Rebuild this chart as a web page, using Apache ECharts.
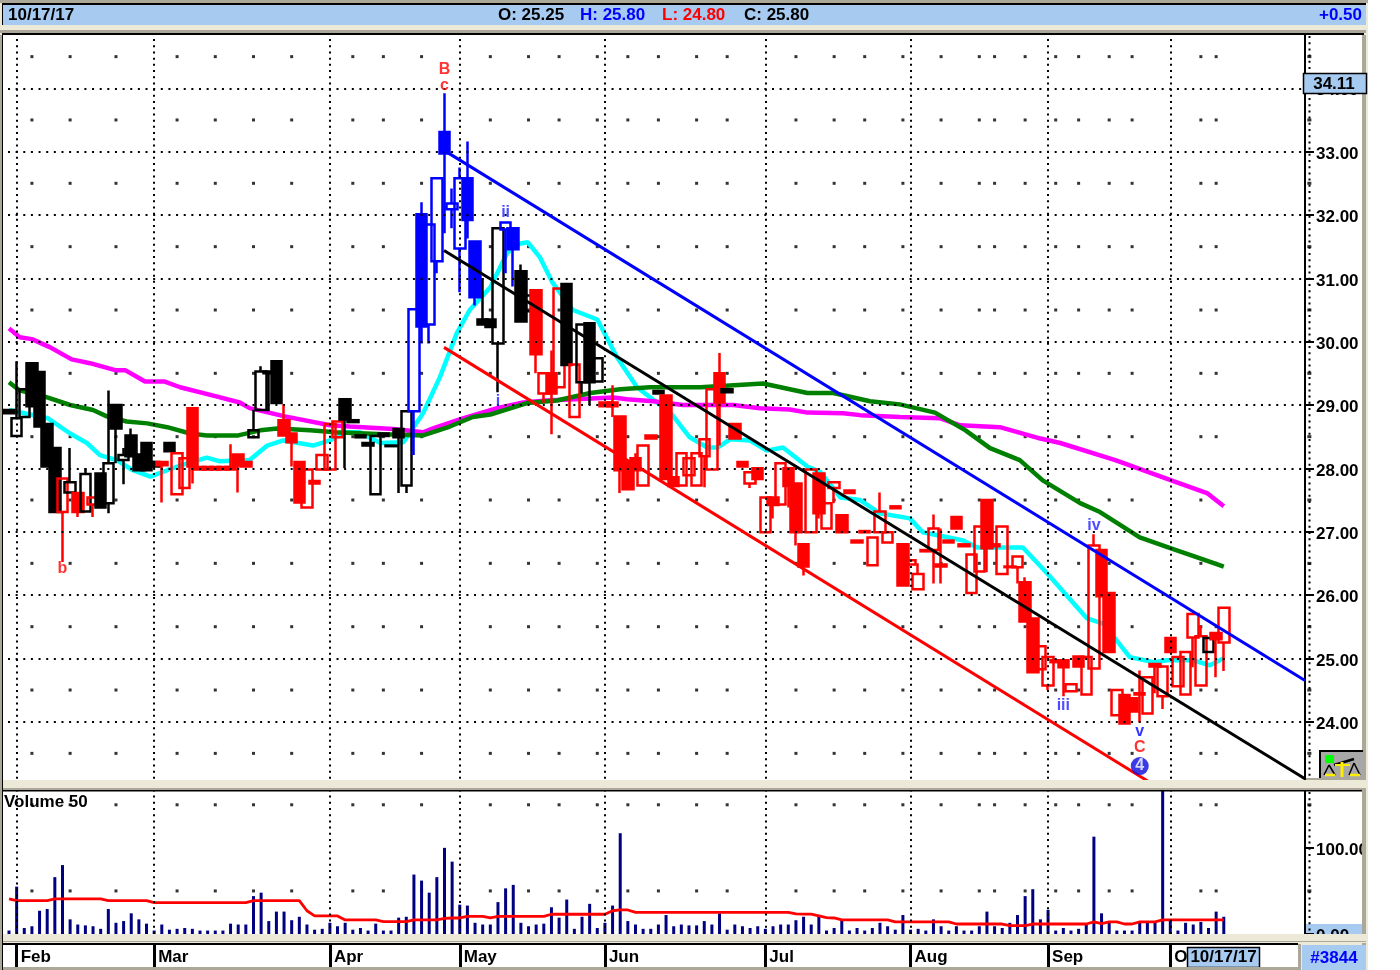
<!DOCTYPE html>
<html><head><meta charset="utf-8">
<style>html,body{margin:0;padding:0;background:#fff}#c{width:1400px;height:970px}</style>
<script src="https://cdn.jsdelivr.net/npm/echarts@6/dist/echarts.min.js"></script>
</head><body><div id="c"></div>
<script>
// ---------- candles: filled = close below open, hollow = close above open ----------
const open=[28.92,28.51,28.81,29.66,29.52,28.70,28.32,27.31,27.62,27.61,27.32,27.43,27.92,27.45,29.00,28.13,28.52,28.22,28.40,28.10,
28.10,28.40,27.59,27.69,28.95,28.02,28.02,28.02,28.02,28.02,28.22,28.10,28.49,28.92,29.53,29.69,28.76,28.55,28.10,27.38,
27.80,27.98,27.98,28.49,29.09,28.76,28.52,28.40,27.59,28.55,28.36,28.62,27.73,28.90,32.01,30.27,31.27,33.31,32.09,31.47,
32.58,31.58,30.35,30.35,29.97,31.77,31.79,31.11,30.48,30.81,29.18,29.50,29.28,30.91,28.81,29.36,30.29,29.37,29.04,29.04,
28.82,28.08,28.16,27.73,28.52,29.22,29.15,27.86,27.73,27.89,27.73,28.19,27.98,29.50,29.25,28.70,28.10,27.76,28.00,26.99,
27.54,27.43,28.00,27.76,26.80,26.99,27.92,27.05,27.69,27.26,27.65,26.86,27.01,26.47,26.99,26.83,27.40,26.80,26.48,26.09,
26.71,26.71,26.48,26.86,27.23,26.80,26.03,26.37,27.50,26.80,26.33,26.45,26.44,26.20,25.63,24.83,24.57,24.97,24.97,24.48,
25.03,24.43,24.84,26.71,26.03,24.10,24.42,24.37,24.45,24.13,24.91,24.40,25.32,24.56,24.43,25.33,24.57,25.10,25.40,25.25];
const close=[28.87,28.79,29.25,28.98,28.66,28.03,27.31,27.84,27.78,27.31,27.91,27.54,27.38,28.08,28.63,28.21,28.19,27.97,27.97,28.03,
28.05,28.27,28.24,28.16,28.03,27.98,27.98,27.98,27.98,27.98,28.05,28.03,28.60,29.53,29.50,29.03,28.52,28.41,27.46,27.98,
27.76,28.21,28.70,28.74,28.77,28.73,28.49,28.36,28.51,28.51,28.35,28.49,28.90,30.51,30.24,31.85,32.58,32.97,32.18,32.58,
31.92,30.70,30.27,30.23,31.79,31.88,31.46,30.32,30.73,29.80,29.50,29.18,30.84,29.63,29.64,30.27,29.36,29.74,28.98,28.98,
27.97,27.67,27.97,28.36,28.47,29.18,27.83,27.72,28.24,28.16,28.24,28.46,29.25,29.04,29.20,28.47,28.03,27.94,27.83,27.54,
27.42,28.08,27.72,26.99,26.45,27.98,27.29,27.45,27.78,26.99,27.61,26.83,26.99,26.91,27.32,26.99,27.37,26.15,26.55,26.33,
26.69,27.05,26.45,26.83,27.05,26.77,26.64,27.08,26.74,26.77,27.08,26.44,26.61,25.58,24.78,25.19,25.02,24.94,24.86,24.59,
24.87,25.02,26.78,25.98,25.10,24.50,23.97,24.16,24.43,24.70,24.87,24.87,25.10,25.02,25.10,25.70,25.35,25.32,25.30,25.80];
const low=[28.87,28.51,28.81,28.98,28.66,28.03,27.31,26.52,27.62,27.23,27.32,27.23,27.38,27.29,28.08,27.75,28.19,27.97,27.97,28.03,
27.46,28.27,27.59,27.69,27.76,27.98,27.98,27.98,27.98,27.98,27.62,28.03,28.49,28.92,28.90,29.03,28.52,28.03,27.46,27.38,
27.76,27.98,27.98,28.49,28.00,28.73,28.49,28.36,27.59,28.51,28.35,27.61,27.61,28.21,29.97,29.97,31.08,31.71,31.79,30.78,
31.63,30.57,30.27,30.23,29.20,31.08,30.87,30.32,30.48,29.50,29.03,28.54,29.28,29.63,28.81,29.18,29.00,29.37,28.98,28.81,
27.61,27.67,27.97,27.73,28.47,29.18,27.83,27.72,27.73,27.89,27.73,27.70,27.98,28.36,29.20,28.47,28.03,27.69,27.83,26.99,
27.21,27.43,27.38,26.78,26.31,26.99,27.21,27.05,27.45,26.99,27.61,26.83,26.99,26.47,26.99,26.83,27.37,26.15,26.48,26.09,
26.69,26.18,26.18,26.83,27.05,26.77,26.03,26.37,26.36,26.77,26.33,26.44,26.18,25.58,24.78,24.83,24.50,24.94,24.40,24.48,
24.87,24.43,24.84,25.98,25.10,24.10,23.97,24.16,23.99,24.13,24.45,24.20,25.10,24.56,24.43,24.86,24.57,25.10,24.70,24.80];
const high=[28.92,29.69,29.25,29.66,29.52,28.70,28.32,27.84,28.32,27.61,28.00,27.54,27.92,29.23,29.00,28.32,28.63,28.22,28.40,28.10,
28.10,28.40,28.24,28.16,28.95,28.02,28.02,28.02,28.02,28.38,28.22,28.10,28.92,29.61,29.53,29.69,29.01,28.55,28.10,27.98,
27.80,28.21,28.70,28.74,29.09,28.76,28.52,28.40,28.51,28.55,28.36,28.62,28.90,30.51,32.20,31.85,32.58,33.92,32.42,32.75,
33.16,31.58,31.00,30.35,31.79,31.88,31.79,31.22,30.73,30.81,29.50,29.86,30.84,30.91,29.64,30.27,30.29,29.74,29.04,29.31,
28.82,28.08,28.24,28.36,28.52,29.22,29.15,27.86,28.24,28.16,28.24,28.46,29.25,29.82,29.25,28.70,28.10,27.94,28.00,27.54,
27.54,28.08,28.00,27.76,26.80,27.98,27.92,27.45,27.78,27.26,27.65,26.86,27.01,26.91,27.62,26.99,27.40,26.80,26.55,26.50,
26.71,27.27,27.05,26.86,27.23,26.80,26.64,27.08,27.50,26.80,27.08,26.45,26.61,26.28,25.63,25.19,25.02,24.97,24.97,24.59,
25.03,25.02,26.96,26.71,26.03,24.50,24.42,24.37,24.81,24.70,24.91,24.87,25.32,25.02,25.10,25.70,25.52,25.32,25.40,25.80];
// candles drawn in blue and in black; every other candle is red
const blueCandles=[53,54,55,56,57,58,59,60,61,65,66];
const blackCandles=[0,1,2,3,4,5,6,8,10,12,13,14,15,16,17,18,19,21,32,33,34,35,44,45,46,47,48,49,50,51,52,62,63,64,67,68,73,75,76,77,85,94,157];
// ---------- moving averages, read at the visible vertices ----------
const magentaIdx=[0,1.4,3,5.4,8.2,10.6,13.9,15.2,17.8,20.4,22.4,27,30.2,31.5,36.1,42,44.6,50.3,54.2,55.5,59.4,63.9,67.3,70.4,79.1,80.9,84.3,88.2,94.8,98.3,102.2,104.5,109.2,111.4,116.6,121.9,124.5,129.7,135,137.6,144.8,152.4,156.8,159];
const magentaVal=[30.21,30.07,30.04,29.91,29.72,29.66,29.55,29.55,29.37,29.37,29.28,29.14,29.04,28.95,28.82,28.68,28.66,28.62,28.57,28.63,28.79,28.95,29.04,29.07,29.12,29.09,29.06,29.00,29.00,28.95,28.93,28.88,28.87,28.84,28.81,28.79,28.68,28.65,28.47,28.40,28.13,27.80,27.61,27.40];
const greenIdx=[0,1.4,5,8,11,12.8,15.4,18.1,20.7,23.7,25.9,30,32.9,35.1,39.4,42.7,49,54.2,57.7,60.7,63,67.8,71.7,76.1,80,83.9,90.5,98.7,104.5,107.9,112.7,116.6,121.2,125.2,128.4,132.3,135.3,140.2,142.8,148,152,155.9,159];
const greenVal=[29.36,29.23,29.12,29.00,28.92,28.82,28.74,28.71,28.65,28.55,28.52,28.52,28.60,28.63,28.60,28.57,28.54,28.52,28.66,28.81,28.85,29.03,29.07,29.19,29.25,29.28,29.28,29.34,29.19,29.19,29.06,29.01,28.88,28.60,28.32,28.13,27.81,27.45,27.31,26.91,26.74,26.58,26.45];
const cyanIdx=[0,5.1,8,10.2,11.9,14.1,16.2,18.5,20.7,23.3,25.9,27.6,31.5,33.8,35.9,39.8,42,44,45.9,48.6,51.6,54.2,56.4,58.6,60.3,63,65.2,66.9,67.9,69.5,71.1,73.8,77,79.6,82.2,84.8,86.5,89.1,91.4,92.8,94.4,97,99.2,101.3,104.5,106.2,108.8,111.4,114,117.9,119.6,124.9,126.7,132.7,135.9,141.1,143.2,145,146.7,149.8,151.6,155,157.2,159];
const cyanVal=[28.92,28.79,28.55,28.40,28.21,28.13,27.97,27.87,27.97,28.08,28.17,28.11,28.13,28.36,28.44,28.36,28.44,28.57,28.57,28.40,28.41,28.87,29.44,30.13,30.50,30.86,31.40,31.55,31.57,31.33,30.94,30.50,30.35,29.75,29.28,29.04,28.89,28.49,28.33,28.33,28.46,28.44,28.28,28.33,28.03,27.94,27.54,27.50,27.29,27.21,26.99,26.86,26.75,26.75,26.34,25.63,25.55,25.28,25.02,24.94,24.97,24.97,24.89,25.00];
// ---------- trend channel ----------
const blueTrendIdx=[56.94,169.63],blueTrendVal=[33.02,24.65];
const blackTrendIdx=[56.94,169.63],blackTrendVal=[31.44,23.10];
const redTrendIdx=[56.94,149.35],redTrendVal=[29.91,23.04];
// ---------- volume ----------
const volume=[4,55,7,9,27,29,66,80,17,11,10,9,6,29,13,15,24,17,12,4,11,5,6,7,6,4,4,4,4,12,11,11,44,48,15,26,26,16,20,11,5,6,13,9,13,5,7,4,12,4,4,19,20,69,62,48,66,100,84,34,33,13,11,11,37,53,57,13,9,11,12,31,19,40,6,20,35,7,13,33,117,15,11,6,6,11,22,9,11,10,10,15,11,24,5,11,9,7,9,6,9,11,11,16,20,11,20,4,7,16,4,7,4,7,13,9,5,22,5,6,4,17,9,4,9,4,4,9,26,9,7,13,22,44,52,17,28,4,7,4,6,11,113,24,13,4,4,4,13,13,14,168,17,4,13,11,14,7,26,20];
const volumeAvg=[40.7,38.8,38.8,38.8,38.8,38.8,40.7,40.7,40.7,40.7,40.7,40.7,40.7,38.8,38.8,38.8,38.8,38.8,38.8,36.4,36.4,36.4,36.4,36.4,36.4,36.4,36.4,36.4,36.4,36.4,36.4,36.4,38.8,38.8,38.8,38.8,38.8,38.8,38.8,27,21,21,21,21,16.3,16.3,16.3,16.3,16.3,14.3,14.3,14.3,14.3,16.3,16.3,16.3,16.3,18.2,18.6,18.6,20.5,20.5,20.5,18.6,20.5,20.5,20.5,20.5,20.5,20.5,20.5,22.9,22.9,22.9,22.9,22.9,22.9,22.9,22.9,27,27.9,27.9,25.2,25.2,25.2,25.2,25.2,25.2,25.2,25.2,25.2,25.2,25.2,25.2,25.2,25.2,25.2,25.2,25.2,25.2,25.2,25.2,25.2,23.3,23,23,21,19,18.6,16.3,16.3,16.3,16.3,16.3,16.3,16.3,14,14,14,14,14,14,14,14,11.6,11.6,11.6,11.6,11.6,11.6,11.6,9.7,9.7,9.7,11.6,11.6,11.6,11.6,11.6,11.6,11.6,11.6,14,12,14,14,11.6,11.6,14,14,14,16.3,16.3,16.3,16.3,16.3,16.3,16.3,16.3,16.3];
// ---------- axes ----------
const monthIdx=[1,19,42,59,78,99,118,136,152];
const monthNames=['Feb','Mar','Apr','May','Jun','Jul','Aug','Sep','Oct'];
const priceTicks=[24,25,26,27,28,29,30,31,32,33,34];
const volumeTicks=[0,100];
const weekIdx=[3,8,14,22,27,32,37,45,49,54,63,68,72,77,81,85,90,94,103,108,112,117,122,127,129,133,137,140,144,147,156,158];
const halfPrices=[23.5,24.5,25.5,26.5,27.5,28.5,29.5,30.5,31.5,32.5,33.5,34.5];
const halfVolumes=[50,150];
// ---------- annotations ----------
const noteText=['B','c','b','ii','i','iv','iii','v','C','4'];
const noteIdx=[57,57,7,65,64,142,138,148,148,148];
const notePrice=[34.29,34.05,26.41,32.03,29.05,27.09,24.25,23.84,23.59,23.30];
const noteColor=['#ff0000','#ff0000','#ff0000','#2020ff','#2020ff','#2020ff','#2020ff','#0000ff','#ff0000','#ffffff'];
const header={date:'10/17/17',o:'O: 25.25',h:'H: 25.80',l:'L: 24.80',c:'C: 25.80',chg:'+0.50',last:'34.11',code:'#3844'};

const XMIN=-0.785, XMAX=169.63;
const FF='"Liberation Sans", Arial, sans-serif';
const FONT='bold 17px '+FF;
const pb='#A6CAF0', beige='#ECE9D8', gray='#ACA899';
const colorOf=i=>blueCandles.includes(i)?'#0000ff':blackCandles.includes(i)?'#000000':'#ff0000';

const candleData=open.map((o,i)=>{
  const c=colorOf(i), fill=o>close[i]?c:'rgba(255,255,255,0)';
  return {value:[i,o,close[i],low[i],high[i]],itemStyle:{color:fill,color0:fill,borderColor:c,borderColor0:c,borderColorDoji:c,borderWidth:2.5}};
});
const pairs=(a,b)=>a.map((x,i)=>[x,b[i]]);
const sparse=[];weekIdx.forEach(x=>halfPrices.forEach(p=>sparse.push([x,p])));
const sparseVol=[];weekIdx.forEach(x=>halfVolumes.forEach(p=>sparseVol.push([x,p])));
const AXDOT=170.2;
const monthLines=monthIdx.map(v=>({xAxis:v}));
const monthLine={silent:true,symbol:'none',label:{show:false},animation:false,lineStyle:{color:'#000',type:[2,4.2],width:2},data:monthLines};
const lineSeries=(name,data,color,w,z)=>({name,type:'line',data,symbol:'none',showSymbol:false,smooth:false,lineStyle:{color,width:w},z,silent:true,animation:false,xAxisIndex:0,yAxisIndex:0});
const xBase={type:'value',min:XMIN,max:XMAX,show:false,splitLine:{show:false}};
const yLabel={show:true,color:'#000',fontFamily:'Liberation Sans',fontWeight:'bold',fontSize:17,margin:11,verticalAlign:'top',padding:[-6,0,0,0],formatter:v=>v.toFixed(2)};

const option={
  animation:false,backgroundColor:'#fff',
  grid:[
    {left:3,width:1302,top:24.96,height:760.08},
    {left:3,width:1302,top:791,height:143},
    {left:3,width:1295,top:943,height:1}
  ],
  xAxis:[
    {...xBase,gridIndex:0},
    {...xBase,gridIndex:1},
    {type:'value',gridIndex:2,min:XMIN,max:XMIN+1295/7.64,position:'bottom',splitLine:{show:false},
     axisLine:{show:true,onZero:false,lineStyle:{color:'#000',width:2}},
     axisTick:{show:true,customValues:monthIdx,length:23,lineStyle:{color:'#000',width:3}},
     axisLabel:{show:true,customValues:monthIdx,color:'#000',fontFamily:'Liberation Sans',fontWeight:'bold',fontSize:17,margin:5,align:'left',padding:[0,0,0,4],
       formatter:v=>monthNames[monthIdx.indexOf(v)]||''}}
  ],
  yAxis:[
    {type:'value',gridIndex:0,position:'right',min:23,max:35,interval:1,z:5,
     axisLine:{show:true,onZero:false,lineStyle:{color:'#000',width:2}},
     axisTick:{show:true,customValues:priceTicks,length:9,lineStyle:{color:'#000',width:2}},
     axisLabel:{...yLabel,customValues:priceTicks},
     splitLine:{show:true,lineStyle:{color:'#000',width:2,type:[2,5.64],dashOffset:2.64}}},
    {type:'value',gridIndex:1,position:'right',min:0,max:166,z:5,
     axisLine:{show:true,onZero:false,lineStyle:{color:'#000',width:2}},
     axisTick:{show:true,customValues:volumeTicks,length:9,lineStyle:{color:'#000',width:2}},
     axisLabel:{...yLabel,customValues:volumeTicks},
     splitLine:{show:true,showMinLine:false,showMaxLine:false,lineStyle:{color:'#000',width:2,type:[2,5.64],dashOffset:2.64}}},
    {type:'value',gridIndex:2,min:0,max:1,show:false,splitLine:{show:false}}
  ],
  series:[
    {name:'dots',type:'scatter',xAxisIndex:0,yAxisIndex:0,data:sparse,symbol:'rect',symbolSize:3,itemStyle:{color:'#000'},silent:true,z:1,markLine:monthLine},
    {name:'axis dots',type:'scatter',xAxisIndex:0,yAxisIndex:0,clip:false,data:halfPrices.map(p=>[AXDOT,p]),symbol:'rect',symbolSize:[4,3],itemStyle:{color:'#000'},silent:true,z:1},
    {name:'vol dots',type:'scatter',xAxisIndex:1,yAxisIndex:1,data:sparseVol,symbol:'rect',symbolSize:3,itemStyle:{color:'#000'},silent:true,z:1,markLine:monthLine},
    {name:'vol axis dots',type:'scatter',xAxisIndex:1,yAxisIndex:1,clip:false,data:halfVolumes.map(p=>[AXDOT,p]),symbol:'rect',symbolSize:[4,3],itemStyle:{color:'#000'},silent:true,z:1},
    lineSeries('MA fast',pairs(cyanIdx,cyanVal),'#00ffff',4.5,3),
    lineSeries('MA long',pairs(magentaIdx,magentaVal),'#ff00ff',4.5,3),
    lineSeries('MA mid',pairs(greenIdx,greenVal),'#008000',4.5,3),
    {name:'price',type:'candlestick',xAxisIndex:0,yAxisIndex:0,data:candleData,barWidth:11,silent:true,z:4,animation:false,progressive:0,large:false},
    lineSeries('upper',pairs(blueTrendIdx,blueTrendVal),'#0000ff',3,6),
    lineSeries('middle',pairs(blackTrendIdx,blackTrendVal),'#000000',3,6),
    lineSeries('lower',pairs(redTrendIdx,redTrendVal),'#ff0000',3,6),
    {name:'notes',type:'scatter',xAxisIndex:0,yAxisIndex:0,silent:true,z:8,clip:false,
     data:noteText.map((t,i)=>({value:[noteIdx[i],notePrice[i]],symbol:'circle',symbolSize:t==='4'?18:1,
       itemStyle:{color:t==='4'?'#0a0ae0':'rgba(255,255,255,0)'},
       label:{show:true,position:'inside',formatter:t,color:noteColor[i],fontFamily:'Liberation Sans',fontSize:16,fontWeight:'bold'}}))},
    {name:'Volume',type:'bar',xAxisIndex:1,yAxisIndex:1,data:volume.map((v,i)=>[i,v]),barWidth:3,itemStyle:{color:'#000080'},silent:true,z:3,animation:false},
    {name:'Volume avg',type:'line',xAxisIndex:1,yAxisIndex:1,data:volumeAvg.map((v,i)=>[i,v]),symbol:'none',lineStyle:{color:'#ff0000',width:2.8},silent:true,z:4,animation:false}
  ],
  graphic:{elements:(function(){
    const R=(x,y,w,h,fill,z,stroke)=>({type:'rect',silent:true,z:z||100,shape:{x,y,width:w,height:h},style:{fill,stroke:stroke||null,lineWidth:stroke?1.5:0}});
    const T=(text,x,y,fill,align,z)=>({type:'text',silent:true,z:z||101,x,y,style:{text,fill,font:FONT,textAlign:align||'left',textVerticalAlign:'middle'}});
    const L=(x1,y1,x2,y2,stroke,w,dash,z)=>({type:'line',silent:true,z:z||102,shape:{x1,y1,x2,y2},style:{stroke,lineWidth:w,lineDash:dash||null}});
    return [
      R(1368,0,32,970,'#ffffff',99),
      R(1362,0,4,970,gray,100),R(1366,0,2,970,beige,100),
      R(0,0,2,970,gray,100),R(2,0,1,970,'#000',100),
      R(0,0,1368,35,beige,100),R(0,0,1368,3,gray,100),R(2,3,1364,2,'#000',100),
      R(3,5,1363,20,pb,100),R(2,5,1,20,'#000',100),
      R(0,30,1366,3,gray,100),R(2,33,1362,2,'#000',100),
      T(header.date,8,15,'#000'),T(header.o,498,15,'#000'),T(header.h,580,15,'#0000ff'),T(header.l,662,15,'#ff0000'),T(header.c,744,15,'#000'),
      T(header.chg,1362,15,'#0000ff','right'),
      L(1309.5,36,1309.5,778,'#000',2,[2,4.2],3),L(1309.5,792,1309.5,933,'#000',2,[2,4.2],3),
      R(1303.5,73.5,63,20,pb,103,'#000'),T(header.last,1334,84,'#000','center',104),
      R(1306,778,56,2,gray,100),
      R(3,780,1363,8,beige,100),R(3,788,1363,2,gray,100),R(3,790,1302,1.5,'#000',100),R(1305,790,57,1.5,'#000',100),
      // balance icon
      R(1319,750,44,28,'#a8a8a8',103),R(1319,750,44,2,'#000',104),R(1319,750,2,28,'#000',104),
      R(1325,755,9,8,'#00ff00',105),
      L(1334,765,1354,759,'#000',2.5,null,105),L(1335,765,1350,765,'#ffee00',2,null,105),L(1342,762,1342,777,'#ffee00',3,null,105),
      L(1329,765,1324,775,'#000',1.5,null,105),L(1329,765,1335,775,'#000',1.5,null,105),L(1354,763,1349,775,'#000',1.5,null,105),L(1354,763,1360,775,'#000',1.5,null,105),
      L(1325,775,1335,775,'#ffee00',2.5,null,105),L(1350,775,1360,775,'#ffee00',2.5,null,105),
      T('Volume 50',4,802,'#000','left',101),
      R(1305,924,61,10,pb,1),
      R(3,934,1363,9,beige,100),R(3,941,1363,1,gray,100),
      R(1298,942,68,28,beige,99.5),R(1298,944,3,26,gray,100),
      R(1302,945,64,25,pb,100),T(header.code,1334,958,'#0000ff','center',101),
      R(1187.5,947.5,72,20,pb,100,'#000'),T(header.date,1223.5,957,'#000','center',101),
      R(3,967,1295,3,gray,100)
    ];
  })()}
};
const chart=echarts.init(document.getElementById('c'),null,{renderer:'canvas',width:1400,height:970});
chart.setOption(option);
</script></body></html>
